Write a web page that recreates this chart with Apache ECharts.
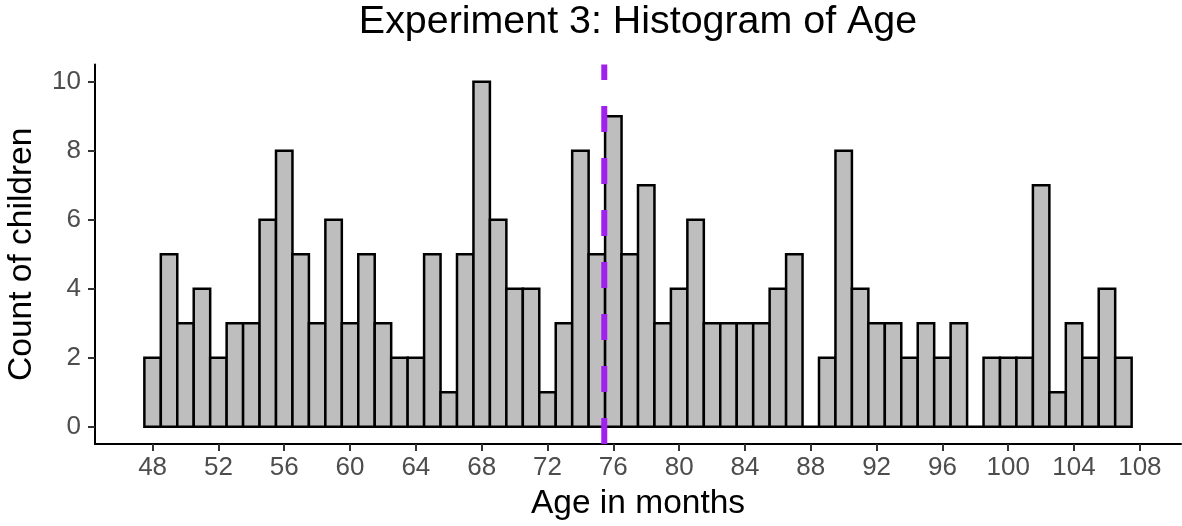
<!DOCTYPE html>
<html>
<head>
<meta charset="utf-8">
<script src="https://cdn.jsdelivr.net/npm/echarts@6/dist/echarts.min.js"></script>
<style>
html,body{margin:0;padding:0;background:#fff;}
#chart{width:1182px;height:526px;}
</style>
</head>
<body>
<div id="chart"></div>
<script>
const ageBins = [48,49,50,51,52,53,54,55,56,57,58,59,60,61,62,63,64,65,66,67,68,69,70,71,72,73,74,75,76,77,78,79,80,81,82,83,84,85,86,87,88,89,90,91,92,93,94,95,96,97,98,99,100,101,102,103,104,105,106,107];
const counts = [2,5,3,4,2,3,3,6,8,5,3,6,3,5,3,2,2,5,1,5,10,6,4,4,1,3,8,5,9,5,7,3,4,6,3,3,3,3,4,5,0,2,8,4,3,3,2,3,2,3,0,2,2,2,7,1,3,2,4,2];
const xTicks = [48,52,56,60,64,68,72,76,80,84,88,92,96,100,104,108];
const yTicks = [0,2,4,6,8,10];
const meanAge = 75.45;

const FONT = 'Liberation Sans, Arial, sans-serif';
const chart = echarts.init(document.getElementById('chart'), null, {renderer: 'canvas'});

const barData = ageBins.map((a, i) => [a, counts[i]]);

chart.setOption({
  backgroundColor: '#fff',
  animation: false,
  title: {
    text: 'Experiment 3: Histogram of Age',
    left: 638, top: 3, padding: 0, textAlign: 'center',
    textStyle: {fontFamily: FONT, fontSize: 39.4, fontWeight: 'normal', color: '#000'}
  },
  grid: {left: 95, right: 1, top: 64.5, bottom: 82, containLabel: false, outerBoundsMode: 'none'},
  xAxis: {
    type: 'value', min: 44.5, max: 110.5,
    name: 'Age in months', nameLocation: 'middle', nameGap: 43,
    nameTextStyle: {fontFamily: FONT, fontSize: 33.5, color: '#000'},
    splitLine: {show: false},
    axisLine: {show: true, onZero: false, lineStyle: {color: '#000', width: 2}},
    axisTick: {show: true, length: 7, customValues: xTicks, lineStyle: {color: '#333', width: 2}},
    axisLabel: {customValues: xTicks, fontFamily: FONT, fontSize: 26, color: '#4D4D4D', margin: 11}
  },
  yAxis: {
    type: 'value', min: -0.5, max: 10.5,
    name: 'Count of children', nameLocation: 'middle', nameGap: 56,
    nameTextStyle: {fontFamily: FONT, fontSize: 33.5, color: '#000'},
    splitLine: {show: false},
    axisLine: {show: true, onZero: false, lineStyle: {color: '#000', width: 2}},
    axisTick: {show: true, length: 7, customValues: yTicks, lineStyle: {color: '#333', width: 2}},
    axisLabel: {customValues: yTicks, fontFamily: FONT, fontSize: 26, color: '#4D4D4D', margin: 14}
  },
  series: [
    {
      type: 'custom',
      data: barData,
      z: 2,
      renderItem: function (params, api) {
        const x = api.value(0), y = api.value(1);
        const p1 = api.coord([x - 0.5, y]);
        const p2 = api.coord([x + 0.5, 0]);
        return {
          type: 'rect',
          shape: {x: p1[0], y: p1[1], width: p2[0] - p1[0], height: p2[1] - p1[1]},
          style: {fill: '#BEBEBE', stroke: '#000', lineWidth: 2.5}
        };
      }
    },
    {
      type: 'line',
      data: [[meanAge, -0.5], [meanAge, 10.5]],
      symbol: 'none',
      z: 5,
      lineStyle: {color: '#A020F0', width: 6, type: [26, 26], cap: 'butt'}
    }
  ]
});
</script>
</body>
</html>
